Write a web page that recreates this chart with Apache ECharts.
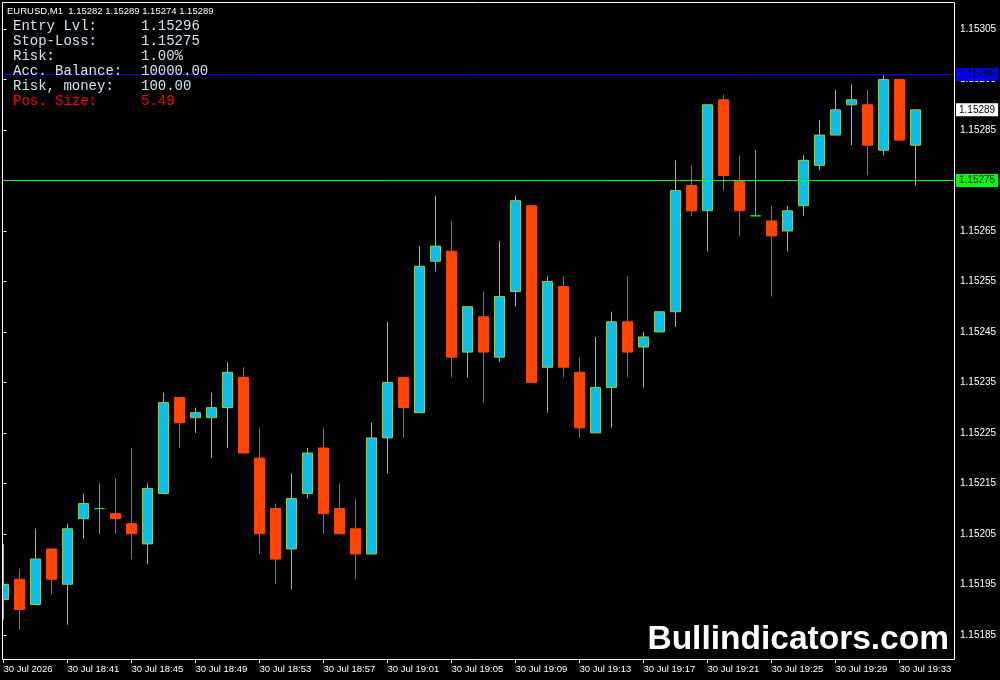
<!DOCTYPE html>
<html>
<head>
<meta charset="utf-8">
<script src="https://cdn.jsdelivr.net/npm/echarts@6.0.0/dist/echarts.min.js"></script>
<style>
html,body{margin:0;padding:0;background:#000;}
#chart{width:1000px;height:680px;}
</style>
</head>
<body>
<div id="chart"></div>
<script>
// ---- data (EURUSD M1) ----
const times = ['18:37','18:38','18:39','18:40','18:41','18:42','18:43','18:44','18:45','18:46',
  '18:47','18:48','18:49','18:50','18:51','18:52','18:53','18:54','18:55','18:56',
  '18:57','18:58','18:59','19:00','19:01','19:02','19:03','19:04','19:05','19:06',
  '19:07','19:08','19:09','19:10','19:11','19:12','19:13','19:14','19:15','19:16',
  '19:17','19:18','19:19','19:20','19:21','19:22','19:23','19:24','19:25','19:26',
  '19:27','19:28','19:29','19:30','19:31','19:32','19:33','19:34'];
const opens = [1.15192,1.15196,1.15191,1.15202,1.15195,1.15208,1.15210,1.15209,1.15207,1.15203,
  1.15213,1.15232,1.15228,1.15228,1.15230,1.15236,1.15220,1.15210,1.15202,1.15213,
  1.15222,1.15210,1.15206,1.15201,1.15224,1.15236,1.15229,1.15259,1.15261,1.15241,
  1.15248,1.15240,1.15253,1.15270,1.15238,1.15254,1.15237,1.15225,1.15234,1.15247,
  1.15242,1.15245,1.15249,1.15274,1.15269,1.15291,1.15275,1.15268,1.15267,1.15265,
  1.15270,1.15278,1.15284,1.15290,1.15290,1.15281,1.15295,1.15282];
const closes = [1.15195,1.15190,1.15200,1.15196,1.15206,1.15211,1.15210,1.15208,1.15205,1.15214,
  1.15231,1.15227,1.15229,1.15230,1.15237,1.15221,1.15205,1.15200,1.15212,1.15221,
  1.15209,1.15205,1.15201,1.15224,1.15235,1.15230,1.15258,1.15262,1.15240,1.15250,
  1.15241,1.15252,1.15271,1.15235,1.15255,1.15238,1.15226,1.15234,1.15247,1.15241,
  1.15244,1.15249,1.15273,1.15269,1.15290,1.15276,1.15269,1.15268,1.15264,1.15269,
  1.15279,1.15284,1.15289,1.15291,1.15282,1.15295,1.15283,1.15289];
const lows = [1.15188,1.15186,1.15191,1.15193,1.15187,1.15204,1.15205,1.15205,1.15200,1.15199,
  1.15213,1.15222,1.15225,1.15220,1.15222,1.15221,1.15201,1.15195,1.15194,1.15212,
  1.15205,1.15205,1.15196,1.15201,1.15217,1.15224,1.15229,1.15257,1.15236,1.15236,
  1.15231,1.15239,1.15250,1.15235,1.15229,1.15236,1.15224,1.15225,1.15226,1.15236,
  1.15234,1.15245,1.15246,1.15268,1.15261,1.15273,1.15264,1.15268,1.15252,1.15261,
  1.15268,1.15277,1.15284,1.15282,1.15276,1.15280,1.15283,1.15274];
const highs = [1.15203,1.15198,1.15206,1.15202,1.15207,1.15213,1.15215,1.15216,1.15222,1.15215,
  1.15233,1.15232,1.15230,1.15233,1.15239,1.15238,1.15226,1.15211,1.15217,1.15222,
  1.15226,1.15215,1.15212,1.15227,1.15247,1.15236,1.15262,1.15272,1.15267,1.15250,
  1.15253,1.15263,1.15272,1.15270,1.15256,1.15256,1.15240,1.15244,1.15249,1.15256,
  1.15245,1.15249,1.15279,1.15278,1.15290,1.15292,1.15280,1.15281,1.15270,1.15270,
  1.15280,1.15287,1.15293,1.15294,1.15293,1.15296,1.15295,1.15289];

const tickIndex = [0,4,8,12,16,20,24,28,32,36,40,44,48,52,56];
const tickLabels = ['30 Jul 2026','30 Jul 18:41','30 Jul 18:45','30 Jul 18:49','30 Jul 18:53',
  '30 Jul 18:57','30 Jul 19:01','30 Jul 19:05','30 Jul 19:09','30 Jul 19:13','30 Jul 19:17',
  '30 Jul 19:21','30 Jul 19:25','30 Jul 19:29','30 Jul 19:33'];
const priceTicks = [1.15185,1.15195,1.15205,1.15215,1.15225,1.15235,1.15245,1.15255,1.15265,1.15275,1.15285,1.15295,1.15305];

const entryLevel = 1.15296;
const stopLoss = 1.15275;
const bidPrice = 1.15289;

const headerText = 'EURUSD,M1  1.15282 1.15289 1.15274 1.15289';
const infoLabels = ['Entry Lvl:','Stop-Loss:','Risk:','Acc. Balance:','Risk, money:','Pos. Size:'];
const infoValues = ['1.15296','1.15275','1.00%','10000.00','100.00','5.49'];
const watermark = 'Bullindicators.com';

// ---- build ----
const xMin = -0.03125, xMax = 59.40625;
const yMin = 1.1518020, yMax = 1.15310363;
const candles = times.map((t, i) => [i, opens[i], closes[i], lows[i], highs[i]]);

const infoColor = '#d0e4ee';
const monoFont = '14px "Liberation Mono", "DejaVu Sans Mono", monospace';
const labelFont = '"Liberation Sans", Arial, sans-serif';
const graphics = [];
graphics.push({type:'rect', shape:{x:0, y:0, width:2, height:680}, style:{fill:'#000'}, z:90, silent:true});
graphics.push({type:'rect', shape:{x:2.5, y:2.5, width:952, height:657}, style:{fill:null, stroke:'#fff', lineWidth:1}, z:91, silent:true});
graphics.push({type:'text', style:{text: headerText, x:7, y:11, fill:'#fff',
  font:'9.5px "Liberation Sans", Arial, sans-serif', verticalAlign:'middle', align:'left'}, z:100});
infoLabels.forEach((lab, i) => {
  const col = i === 5 ? '#ff0000' : infoColor;
  graphics.push({type:'text', style:{text: lab, x:13, y:26 + i*15, fill: col, font: monoFont,
    verticalAlign:'middle', align:'left'}, z:100});
  graphics.push({type:'text', style:{text: infoValues[i], x:141, y:26 + i*15, fill: col, font: monoFont,
    verticalAlign:'middle', align:'left'}, z:100});
});
graphics.push({type:'text', style:{text: watermark, x:949, y:640, fill:'#fff',
  font:'bold 33.5px "Liberation Sans", Arial, sans-serif', verticalAlign:'middle', align:'right'}, z:100});

function levelSeries(level, lineColor, boxColor) {
  return {
    type:'line', data:[[xMin, level],[xMax, level]], symbol:'none', silent:true,
    lineStyle:{color: lineColor, width:1, type:'solid'},
    itemStyle:{color: boxColor},
    z:3,
    endLabel:{show:true, distance:2, color:'#000', backgroundColor: boxColor, fontSize:10, fontFamily: labelFont,
      padding:[2,3,1,3], formatter: () => level.toFixed(5)}
  };
}

const chart = echarts.init(document.getElementById('chart'), null, {renderer:'canvas'});
chart.setOption({
  backgroundColor:'#000',
  animation:false,
  grid:{left:3, right:46, top:2, bottom:21, show:false},
  xAxis:{
    type:'value', min:xMin, max:xMax, position:'bottom',
    axisLine:{show:false},
    axisTick:{show:true, customValues: tickIndex, length:4, lineStyle:{color:'#fff', width:1}},
    axisLabel:{customValues: tickIndex, color:'#fff', align:'left', margin:5, fontSize:9.5, fontFamily: labelFont,
      formatter: v => tickLabels[tickIndex.indexOf(Math.round(v))] || ''},
    splitLine:{show:false}
  },
  yAxis:{
    type:'value', position:'right', min:yMin, max:yMax, scale:true,
    axisLine:{show:false},
    axisTick:{show:true, customValues: priceTicks, length:3, lineStyle:{color:'#fff', width:1}},
    axisLabel:{customValues: priceTicks, color:'#fff', margin:6, fontSize:10, fontFamily: labelFont,
      formatter: v => Number(v).toFixed(5)},
    splitLine:{show:false}
  },
  graphic: graphics,
  series:[{
    type:'candlestick',
    data: candles,
    encode:{x:0, y:[1,2,3,4]},
    barWidth:10,
    clip:true,
    z:2,
    itemStyle:{
      color:'#00bfff', color0:'#ff4500',
      borderColor:'#9acd32', borderColor0:'#ff4500', borderColorDoji:'#00ff00',
      borderWidth:1
    }
  },
  levelSeries(entryLevel, '#0000ff', '#0000ff'),
  levelSeries(stopLoss, '#00ff00', '#00ff00'),
  levelSeries(bidPrice, 'rgba(0,0,0,0)', '#ffffff')
  ]
});
</script>
</body>
</html>
